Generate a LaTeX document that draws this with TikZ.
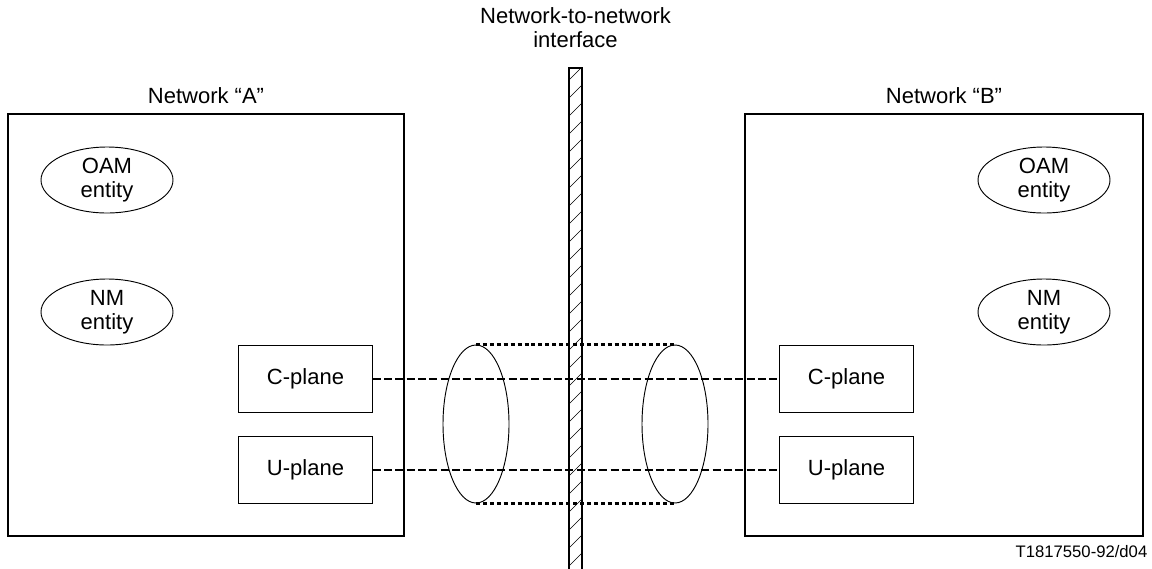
\documentclass[tikz,border=0pt]{standalone}
\usepackage{fontspec}
\setmainfont{Liberation Sans}
\usepackage{tikz}
\usetikzlibrary{positioning,shapes.geometric}

\begin{document}
\begin{tikzpicture}[x=0.75pt, y=-0.75pt,
  every node/.style={font=\fontsize{16.5}{18}\selectfont},
  netbox/.style={rectangle, draw=black, line width=0.8pt, minimum width=297pt, minimum height=316.5pt},
  entity/.style={ellipse, draw=black, line width=0.7pt, minimum width=99pt, minimum height=49.5pt, inner sep=0pt, align=center},
  plane/.style={rectangle, draw=black, line width=0.8pt, minimum width=100pt, minimum height=50pt},
  ring/.style={ellipse, draw=black, line width=0.7pt, minimum width=49.5pt, minimum height=118.5pt, inner sep=0pt},
  link/.style={line width=1pt, dash pattern=on 6pt off 2.5pt},
  tube/.style={line width=2.2pt, dash pattern=on 3pt off 2.2pt}]
\useasboundingbox (0,0) rectangle (1152,568);

% the two networks
\node (netA) [netbox] at (206,325) {};
\node (netB) [netbox, minimum width=298.5pt] at (944,325) {};
\node (labA) [above=4pt of netA] {Network “A”};
\node (labB) [above=4pt of netB] {Network “B”};

\node (oamA) [entity] at (107,180) {OAM\\entity};
\node (nmA) [entity] at (107,312) {NM\\entity};
\node (oamB) [entity] at (1044,180) {OAM\\entity};
\node (nmB) [entity] at (1044,312) {NM\\entity};

\node (cA) [plane] at (305.5,379) {C-plane};
\node (uA) [plane] at (305.5,470) {U-plane};
\node (cB) [plane] at (846.5,379) {C-plane};
\node (uB) [plane] at (846.5,470) {U-plane};

% network-to-network interface
\node (nni) [rectangle, draw=black, line width=0.8pt, minimum width=9.75pt, minimum height=378pt, inner sep=0pt] at (575.5,320) {};
\begin{scope}
\clip (nni.south west) rectangle (nni.north east);
\foreach \y in {80,98,...,600}
  \draw[line width=0.5pt] (569,\y) -- (582,{\y-13});
\end{scope}
\node (nnilab) [above=11pt of nni, align=center] {Network-to-network\\interface};

% connection
\node (cylL) [ring] at (476,424) {};
\node (cylR) [ring] at (675,424) {};
\draw[tube] (cylL.north) -- (cylR.north);
\draw[tube] (cylL.south) -- (cylR.south);

\draw[link] (cA) -- (cB);
\draw[link] (uA) -- (uB);

\node (figid) [anchor=east, font=\fontsize{12.5}{14}\selectfont] at (1152,552) {T1817550-92/d04};
\end{tikzpicture}
\end{document}
